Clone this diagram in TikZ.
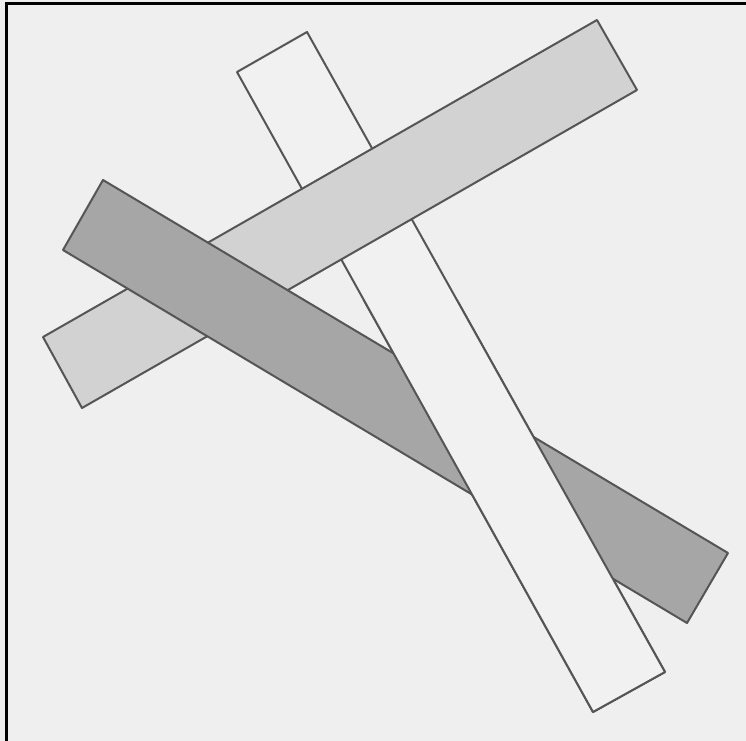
\documentclass[tikz,border=0pt]{standalone}
\definecolor{paper}{HTML}{EFEFEF}
\definecolor{whitebar}{HTML}{F1F1F1}
\definecolor{lightbar}{HTML}{D2D2D2}
\definecolor{darkbar}{HTML}{A6A6A6}
\definecolor{edge}{HTML}{555555}
\begin{document}
\begin{tikzpicture}[x=1bp,y=-1bp,
  bar/.style={draw=edge,line width=2bp,line join=round}]
\useasboundingbox (0,0) rectangle (746,741);
\fill[paper] (0,0) rectangle (746,741);
\draw[black,line width=3bp] (6.5,741) -- (6.5,3.5) -- (746,3.5);
% white bar
\coordinate (w1) at (237,72); \coordinate (w2) at (307,32);
\coordinate (w3) at (665,672); \coordinate (w4) at (593,712);
% light bar
\coordinate (l1) at (43,337); \coordinate (l2) at (597,20);
\coordinate (l3) at (637,90); \coordinate (l4) at (82,408);
% dark bar
\coordinate (d1) at (63,250); \coordinate (d2) at (103,180);
\coordinate (d3) at (728,553); \coordinate (d4) at (687,623);
\path[bar,fill=whitebar] (w1) -- (w2) -- (w3) -- (w4) -- cycle;
\path[bar,fill=lightbar] (l1) -- (l2) -- (l3) -- (l4) -- cycle;
\path[bar,fill=darkbar] (d1) -- (d2) -- (d3) -- (d4) -- cycle;
\begin{scope}
\clip (0,300) rectangle (746,741);
\path[bar,fill=whitebar] (w1) -- (w2) -- (w3) -- (w4) -- cycle;
\end{scope}
\end{tikzpicture}
\end{document}
